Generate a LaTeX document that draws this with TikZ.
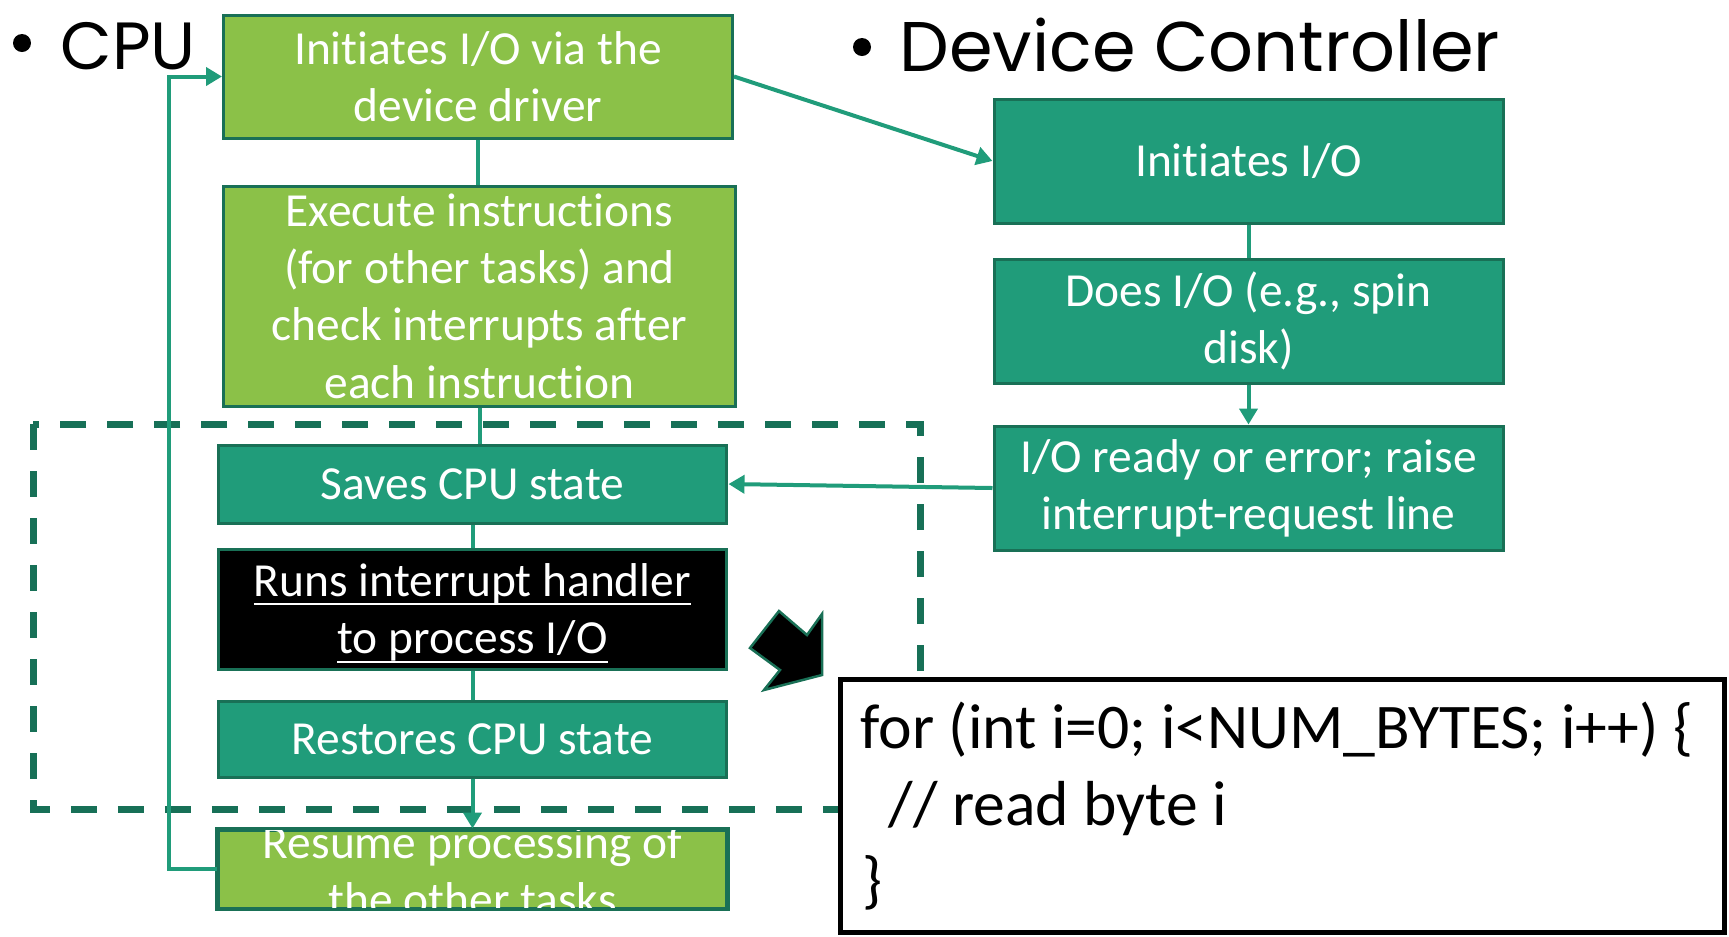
\documentclass[tikz,border=0pt]{standalone}
\usepackage{fontspec}
\setmainfont{Carlito}[Ligatures={NoCommon,NoContextual,NoRare}]
\newfontfamily\headfont{Poppins}
\usetikzlibrary{arrows.meta}

\definecolor{leafgreen}{RGB}{139,193,72}
\definecolor{tealfill}{RGB}{32,156,122}
\definecolor{tealedge}{RGB}{25,112,86}
\definecolor{dashgreen}{RGB}{23,112,87}
\definecolor{linkteal}{RGB}{32,156,122}

% underline set a little below the baseline, spanning the text exactly
\newcommand\undertext[1]{\setbox0=\hbox{#1}\rlap{\rule[-2.6pt]{\wd0}{0.6pt}}\box0}

\begin{document}
\begin{tikzpicture}[x=0.1mm,y=-0.1mm,
  boxtext/.style={text=white, align=center, inner sep=0pt,
    font=\fontsize{13.5pt}{16.3pt}\selectfont},
  box/.style={boxtext, draw=tealedge, line width=0.3mm, minimum width=50.9mm},
  cpubox/.style={box, fill=leafgreen},
  tealbox/.style={box, fill=tealfill},
  handlerbox/.style={box, fill=black},
  link/.style={draw=linkteal, line width=0.4mm},
  arrow/.style={link, -{Triangle[length=1.6mm,width=1.8mm]}},
  heading/.style={anchor=base west, inner sep=0pt,
    font=\headfont\fontsize{19pt}{22pt}\selectfont},
  dot/.style={circle, fill=black, inner sep=0pt, minimum size=1.8mm},
  region/.style={draw=dashgreen, line width=0.7mm, dash pattern=on 2.6mm off 2.1mm},
  codeline/.style={anchor=base west, inner sep=0pt,
    font=\fontsize{18.1pt}{21.7pt}\selectfont}
]
\useasboundingbox (0,0) rectangle (1729,936);

% interrupt-handling region
\draw[region] (33,424) rectangle (920,809);

% headings
\node[dot] (cpudot) at (22,43) {};
\node[heading] (cpu) at (60,69) {CPU};
\node[dot] (devdot) at (862,47) {};
\node[heading, font=\headfont\fontsize{20pt}{23pt}\selectfont] (dev) at (899,71)
  {Device Controller};

% CPU column
\node[cpubox, minimum height=12.3mm] (A) at (478,76.5)
  {Initiates I/O via the\\device driver};
\node[cpubox, minimum width=51.3mm, minimum height=22mm] (B) at (479.5,296) {};
\node[boxtext] (Btext) at (B.center)
  {Execute instructions\\(for other tasks) and\\check interrupts after\\each instruction};
\node[tealbox, minimum height=7.8mm] (C) at (472.5,484) {Saves CPU state};
\node[handlerbox, minimum height=12mm] (D) at (472.5,609) {};
\node[boxtext] (Dtext) at (472.5,613)
  {\undertext{Runs interrupt handler}\\\undertext{to process I/O}};
\node[tealbox, minimum height=7.6mm] (E) at (472.5,739) {Restores CPU state};
\node[cpubox, minimum height=7.8mm] (F) at (472.5,869) {};
\node[boxtext] (Ftext) at (472.5,871) {Resume processing of\\the other tasks};
\draw[tealedge, line width=0.3mm] (F.south west) rectangle (F.north east);

% device controller column
\node[tealbox, minimum height=12.4mm] (G) at (1248.5,161) {Initiates I/O};
\node[tealbox, minimum height=12.4mm] (H) at (1248.5,321)
  {Does I/O (e.g., spin\\disk)};
\node[tealbox, minimum height=12.4mm] (I) at (1248.5,488)
  {I/O ready or error; raise\\interrupt-request line};

% connectors
\draw[link] (A.south) -- (A.south |- B.north);
\draw[link] (B.south) -- (B.south |- C.north);
\draw[link] (C.south) -- (D.north);
\draw[link] (D.south) -- (E.north);
\draw[arrow] (E.south) -- (F.north);
\draw[link] (G.south) -- (H.north);
\draw[arrow] (H.south) -- (I.north);
\draw[arrow] (A.east) -- (G.west);
\draw[arrow] (I.west) -- (C.east);
\draw[arrow] (F.west) -- ++(-4.8mm,0) |- (A.west);

% code of the handler
\node[draw=black, line width=0.5mm, fill=white, inner sep=0pt,
  minimum width=88.4mm, minimum height=25.3mm] (code) at (1282,805.5) {};
\node[codeline] (code1) at (860,748) {for (int i=0; i<NUM\_BYTES; i++) \{};
\node[codeline] (code2) at (888,825) {// read byte i};
\node[codeline] (code3) at (862,901) {\}};

% pointer from the handler to its code
\filldraw[fill=black, draw=tealedge, line width=0.25mm]
  (779,611) -- (807,635) -- (822,614) -- (822,675) -- (764,690)
  -- (780,670) -- (750,648) -- cycle;
\end{tikzpicture}
\end{document}
